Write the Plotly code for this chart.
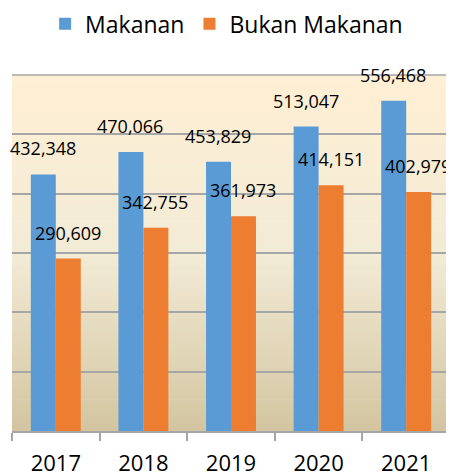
import plotly.graph_objects as go

years = ["2017", "2018", "2019", "2020", "2021"]
makanan = [432348, 470066, 453829, 513047, 556468]
bukan_makanan = [290609, 342755, 361973, 414151, 402979]
series_names = ["Makanan", "Bukan Makanan"]
colors = ["#5B9BD5", "#ED7D31"]

FONT = "Open Sans"
GRID = "#A6A6A6"

fig = go.Figure()
fig.add_trace(go.Bar(x=years, y=makanan, name=series_names[0], marker_color=colors[0],
                     marker_line_width=0))
fig.add_trace(go.Bar(x=years, y=bukan_makanan, name=series_names[1], marker_color=colors[1],
                     marker_line_width=0))

# data labels (x given as category index)
for vals, shift in ((makanan, -13), (bukan_makanan, 12)):
    for idx, v in enumerate(vals):
        fig.add_annotation(x=idx, y=v, xref="x", yref="y", text=f"{v:,}", showarrow=False,
                           xanchor="center", yanchor="bottom", xshift=shift, yshift=12,
                           font=dict(family=FONT, size=18, color="#000000"))

# vertical gradient background for plot area
def hex2rgb(h):
    h = h.lstrip("#")
    return tuple(int(h[i:i + 2], 16) for i in (0, 2, 4))

stops = [(0.0, "#D3C5A0"), (0.5, "#F2EBD6"), (1.0, "#FFEFD4")]
n = 80
shapes = []
for i in range(n):
    t = (i + 0.5) / n
    for (p0, c0), (p1, c1) in zip(stops[:-1], stops[1:]):
        if p0 <= t <= p1:
            f = (t - p0) / (p1 - p0)
            a, b = hex2rgb(c0), hex2rgb(c1)
            rgb = tuple(round(a[k] + (b[k] - a[k]) * f) for k in range(3))
            break
    shapes.append(dict(type="rect", xref="paper", yref="paper", x0=0, x1=1,
                       y0=i / n, y1=min(1, (i + 1) / n + 0.002), layer="below",
                       fillcolor="rgb(%d,%d,%d)" % rgb, line_width=0))
# top border gridline of the plot area
shapes.append(dict(type="line", xref="paper", yref="paper", x0=0, x1=1, y0=1, y1=1,
                   layer="below", line=dict(color=GRID, width=1.5)))

# page body has an 8px default margin, so the figure is sized to fit the window
fig.update_layout(
    width=446, height=468,
    margin=dict(l=4, r=4, t=67, b=45, pad=0, autoexpand=False),
    paper_bgcolor="white", plot_bgcolor="white",
    barmode="group", bargap=0.43, bargroupgap=0,
    shapes=shapes,
    showlegend=True,
    legend=dict(orientation="h", x=0.49, xanchor="center", y=0.966, yanchor="middle",
                yref="container", font=dict(family=FONT, size=23, color="#000000"),
                itemwidth=30, traceorder="normal"),
    font=dict(family=FONT, color="#000000"),
)
fig.update_xaxes(type="category", range=[-0.5, len(years) - 0.5], showgrid=False,
                 automargin=False,
                 showline=True, linecolor=GRID,
                 linewidth=1.5, ticks="outside", tickson="boundaries", ticklen=8,
                 tickcolor=GRID, tickwidth=1.5,
                 tickfont=dict(family=FONT, size=22, color="#000000"),
                 ticklabelstandoff=12)
fig.update_yaxes(range=[0, 600000], dtick=100000, showticklabels=False, showgrid=True,
                 automargin=False,
                 gridcolor=GRID, gridwidth=1.5, zeroline=False, showline=False,
                 ticks="")

fig.write_html("out.html")
